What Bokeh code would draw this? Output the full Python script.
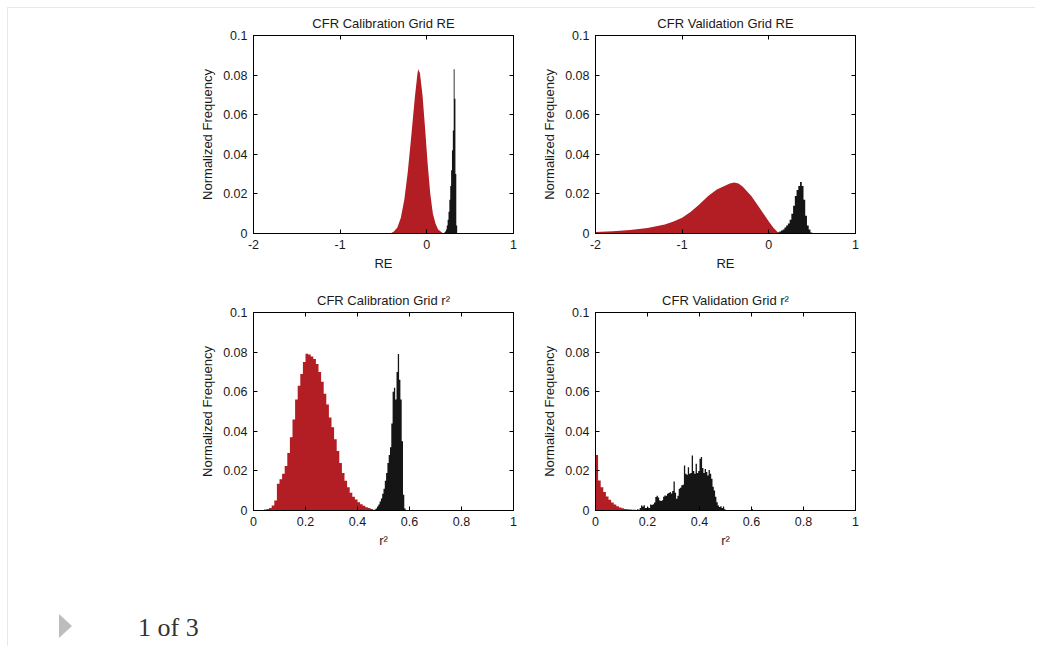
from bokeh.plotting import figure
from bokeh.layouts import column, row
from bokeh.models import LinearAxis, FixedTicker, CustomJSTickFormatter, Div
from bokeh.embed import file_html
from bokeh.resources import INLINE

# ---------------- data ----------------
TITLES = ["CFR Calibration Grid RE", "CFR Validation Grid RE",
          "CFR Calibration Grid r\u00b2", "CFR Validation Grid r\u00b2"]
XLABELS = ["RE", "RE", "r\u00b2", "r\u00b2"]
YLABEL = "Normalized Frequency"
RE_TICKS = [-2, -1, 0, 1]
R2_TICKS = [0, 0.2, 0.4, 0.6, 0.8, 1]
Y_TICKS = [0, 0.02, 0.04, 0.06, 0.08, 0.1]

# Calibration RE, red (fine histogram drawn as outline)
cal_re_red_x = [-0.42, -0.38, -0.34, -0.30, -0.26, -0.22, -0.18, -0.14, -0.11, -0.10,
                -0.08, -0.05, -0.02, 0.01, 0.04, 0.07, 0.10, 0.13, 0.16, 0.19]
cal_re_red_y = [0.0, 0.001, 0.003, 0.008, 0.017, 0.031, 0.049, 0.068, 0.080, 0.083,
                0.081, 0.070, 0.053, 0.035, 0.020, 0.010, 0.005, 0.002, 0.001, 0.0]
# Calibration RE, black (bins of 0.01)
cal_re_blk_left = [0.20, 0.21, 0.22, 0.23, 0.24, 0.25, 0.26, 0.27, 0.28, 0.29,
                   0.30, 0.31, 0.32, 0.33, 0.34]
cal_re_blk_h = [0.0005, 0.001, 0.002, 0.004, 0.007, 0.011, 0.017, 0.024, 0.032, 0.042,
                0.052, 0.083, 0.068, 0.030, 0.004]
cal_re_blk_w = 0.01

# Validation RE, red
val_re_red_x = [-2.0, -1.8, -1.6, -1.4, -1.2, -1.1, -1.0, -0.9, -0.8, -0.7,
                -0.6, -0.5, -0.45, -0.4, -0.35, -0.3, -0.2, -0.1, 0.0, 0.05, 0.1, 0.13]
val_re_red_y = [0.0007, 0.0011, 0.0018, 0.0028, 0.0045, 0.0060, 0.0080, 0.0110, 0.0148, 0.0190,
                0.0222, 0.0243, 0.0252, 0.0258, 0.0252, 0.0236, 0.0188, 0.0125, 0.0060, 0.0030,
                0.0008, 0.0]
# Validation RE, black (bins of 0.02)
val_re_blk_left = [0.10, 0.12, 0.14, 0.16, 0.18, 0.20, 0.22, 0.24, 0.26, 0.28,
                   0.30, 0.32, 0.34, 0.36, 0.38, 0.40, 0.42, 0.44, 0.46, 0.48]
val_re_blk_h = [0.0005, 0.001, 0.0015, 0.002, 0.003, 0.004, 0.005, 0.007, 0.010, 0.014,
                0.019, 0.022, 0.024, 0.026, 0.024, 0.017, 0.009, 0.004, 0.002, 0.0005]
val_re_blk_w = 0.02

# Calibration r2, red (bins of 0.01)
cal_r2_red_left = [0.03, 0.04, 0.05, 0.06, 0.07, 0.08, 0.09, 0.10, 0.11, 0.12,
                   0.13, 0.14, 0.15, 0.16, 0.17, 0.18, 0.19, 0.20, 0.21, 0.22,
                   0.23, 0.24, 0.25, 0.26, 0.27, 0.28, 0.29, 0.30, 0.31, 0.32,
                   0.33, 0.34, 0.35, 0.36, 0.37, 0.38, 0.39, 0.40, 0.41, 0.42,
                   0.43, 0.44, 0.45, 0.46]
cal_r2_red_h = [0.0002, 0.0005, 0.0008, 0.0013, 0.0025, 0.0050, 0.0135, 0.0158, 0.0185, 0.0225,
                0.0290, 0.0370, 0.0460, 0.0560, 0.0630, 0.0690, 0.0750, 0.0792, 0.0788, 0.0778,
                0.0765, 0.0740, 0.0700, 0.0650, 0.0590, 0.0535, 0.0470, 0.0420, 0.0360, 0.0300,
                0.0240, 0.0190, 0.0150, 0.0118, 0.0090, 0.0070, 0.0055, 0.0042, 0.0032, 0.0024,
                0.0017, 0.0012, 0.0007, 0.0003]
cal_r2_red_w = 0.01
# Calibration r2, black (bins of 0.005)
cal_r2_blk_left = [0.465, 0.470, 0.475, 0.480, 0.485, 0.490, 0.495, 0.500, 0.505, 0.510,
                   0.515, 0.520, 0.525, 0.530, 0.535, 0.540, 0.545, 0.550, 0.555, 0.560,
                   0.565, 0.570, 0.575, 0.580]
cal_r2_blk_h = [0.0005, 0.0010, 0.0020, 0.0030, 0.0045, 0.0060, 0.0085, 0.0110, 0.0150, 0.0190,
                0.0240, 0.0280, 0.0320, 0.0440, 0.0600, 0.0620, 0.0560, 0.0700, 0.0790, 0.0660,
                0.0560, 0.0350, 0.0080, 0.0010]
cal_r2_blk_w = 0.005

# Validation r2, red (bins of 0.01)
val_r2_red_left = [0.00, 0.01, 0.02, 0.03, 0.04, 0.05, 0.06, 0.07, 0.08, 0.09,
                   0.10, 0.11, 0.12, 0.13, 0.14, 0.15, 0.16, 0.17, 0.18]
val_r2_red_h = [0.0280, 0.0152, 0.0118, 0.0093, 0.0071, 0.0054, 0.0040, 0.0030, 0.0022, 0.0015,
                0.0011, 0.0008, 0.0006, 0.0005, 0.0004, 0.0003, 0.0002, 0.0002, 0.0001]
val_r2_red_w = 0.01
# Validation r2, black (bins of 0.005)
val_r2_blk_left = [0.150, 0.155, 0.160, 0.165, 0.170, 0.175, 0.180, 0.185, 0.190, 0.195,
                   0.200, 0.205, 0.210, 0.215, 0.220, 0.225, 0.230, 0.235, 0.240, 0.245,
                   0.250, 0.255, 0.260, 0.265, 0.270, 0.275, 0.280, 0.285, 0.290, 0.295,
                   0.300, 0.305, 0.310, 0.315, 0.320, 0.325, 0.330, 0.335, 0.340, 0.345,
                   0.350, 0.355, 0.360, 0.365, 0.370, 0.375, 0.380, 0.385, 0.390, 0.395,
                   0.400, 0.405, 0.410, 0.415, 0.420, 0.425, 0.430, 0.435, 0.440, 0.445,
                   0.450, 0.455, 0.460, 0.465, 0.470, 0.475, 0.480, 0.485, 0.490, 0.495]
val_r2_blk_h = [0.0004, 0.0003, 0.0006, 0.0004, 0.0012, 0.0025, 0.0020, 0.0026, 0.0013, 0.0012,
                0.0015, 0.0013, 0.0030, 0.0028, 0.0032, 0.0040, 0.0068, 0.0074, 0.0066, 0.0050,
                0.0048, 0.0052, 0.0070, 0.0076, 0.0074, 0.0084, 0.0088, 0.0094, 0.0086, 0.0098,
                0.0146, 0.0090, 0.0059, 0.0075, 0.0110, 0.0115, 0.0127, 0.0130, 0.0227, 0.0185,
                0.0180, 0.0219, 0.0185, 0.0190, 0.0278, 0.0200, 0.0185, 0.0236, 0.0190, 0.0200,
                0.0261, 0.0270, 0.0215, 0.0190, 0.0210, 0.0195, 0.0177, 0.0205, 0.0185, 0.0160,
                0.0120, 0.0101, 0.0070, 0.0042, 0.0025, 0.0018, 0.0022, 0.0012, 0.0020, 0.0006]
val_r2_blk_w = 0.005
# isolated small bin of the validation r2 black histogram
val_r2_blk_extra_left = [0.600]
val_r2_blk_extra_h = [0.0008]

FOOTER_TEXT = "1 of 3"

# ---------------- styling ----------------
RED = "#B31D24"
BLACK = "#151515"
FONT = "Liberation Sans"
TXT = "#1a1a1a"

fmt_code = "return String(parseFloat(tick.toFixed(6)))"


def style_axis(ax, ticks, show_labels):
    ax.ticker = FixedTicker(ticks=ticks)
    ax.major_tick_in = 4
    ax.major_tick_out = 0
    ax.minor_tick_line_color = None
    ax.axis_line_color = "black"
    ax.major_tick_line_color = "black"
    ax.major_label_text_font = FONT
    ax.major_label_text_font_size = "12.5px"
    ax.major_label_text_color = TXT
    ax.axis_label_text_font = FONT
    ax.axis_label_text_font_size = "13px"
    ax.axis_label_text_font_style = "normal"
    ax.axis_label_text_color = TXT
    if show_labels:
        ax.formatter = CustomJSTickFormatter(code=fmt_code)
    else:
        ax.formatter = CustomJSTickFormatter(code="return ''")
        ax.major_label_text_font_size = "0px"
        ax.major_label_standoff = 0


def make_fig(title, xr, xticks, xlabel, mbl, mbr, mbt, mbb):
    p = figure(frame_width=260, frame_height=198, x_range=xr, y_range=(0, 0.1),
               output_backend="svg", toolbar_location=None,
               min_border_left=mbl, min_border_right=mbr,
               min_border_top=mbt, min_border_bottom=mbb,
               title=title)
    p.title.align = "center"
    p.title.text_font = FONT
    p.title.text_font_size = "13px"
    p.title.text_font_style = "normal"
    p.title.text_color = TXT
    p.title.standoff = 9
    p.xgrid.visible = False
    p.ygrid.visible = False
    p.outline_line_color = "black"
    p.outline_line_alpha = 1
    style_axis(p.xaxis[0], xticks, True)
    style_axis(p.yaxis[0], Y_TICKS, True)
    p.xaxis[0].axis_label = xlabel
    p.xaxis[0].major_label_standoff = 6
    p.xaxis[0].axis_label_standoff = 4
    p.yaxis[0].axis_label = YLABEL
    p.yaxis[0].major_label_standoff = 6
    p.yaxis[0].axis_label_standoff = 5
    top = LinearAxis()
    style_axis(top, xticks, False)
    p.add_layout(top, "above")
    right = LinearAxis()
    style_axis(right, Y_TICKS, False)
    p.add_layout(right, "right")
    return p


def hist(p, left, heights, width, color):
    # step outline: bin left edges plus the final right edge
    xs = list(left) + [left[-1] + width]
    ys = list(heights) + [heights[-1]]
    p.varea_step(x=xs, y1=[0] * len(xs), y2=ys, step_mode="after", fill_color=color)


f1 = make_fig(TITLES[0], (-2, 1), RE_TICKS, XLABELS[0], 245, 10, 27, 45)
f1.varea(x=cal_re_red_x, y1=0, y2=cal_re_red_y, fill_color=RED)
hist(f1, cal_re_blk_left, cal_re_blk_h, cal_re_blk_w, BLACK)

f2 = make_fig(TITLES[1], (-2, 1), RE_TICKS, XLABELS[1], 72, 180, 27, 45)
f2.varea(x=val_re_red_x, y1=0, y2=val_re_red_y, fill_color=RED)
hist(f2, val_re_blk_left, val_re_blk_h, val_re_blk_w, BLACK)

f3 = make_fig(TITLES[2], (0, 1), R2_TICKS, XLABELS[2], 245, 10, 34, 52)
hist(f3, cal_r2_red_left, cal_r2_red_h, cal_r2_red_w, RED)
hist(f3, cal_r2_blk_left, cal_r2_blk_h, cal_r2_blk_w, BLACK)

f4 = make_fig(TITLES[3], (0, 1), R2_TICKS, XLABELS[3], 72, 180, 34, 52)
hist(f4, val_r2_red_left, val_r2_red_h, val_r2_red_w, RED)
hist(f4, val_r2_blk_left, val_r2_blk_h, val_r2_blk_w, BLACK)
hist(f4, val_r2_blk_extra_left, val_r2_blk_extra_h, val_r2_blk_w, BLACK)

footer = Div(text=(
    '<div style="position:relative;width:1000px;height:74px;">'
    '<div style="position:absolute;left:46px;top:47px;width:0;height:0;'
    'border-top:12px solid transparent;border-bottom:12px solid transparent;'
    'border-left:13px solid #bdbdbd;"></div>'
    '<span style="position:absolute;left:125px;top:46px;font-family:\'Liberation Serif\';'
    'font-size:26px;line-height:30px;color:#333333;white-space:nowrap;">' + FOOTER_TEXT + '</span>'
    '</div>'), width=1000, height=74)

layout = column(row(f1, f2), row(f3, f4), footer,
                styles={"border-top": "1px solid #e9e9e9", "border-left": "1px solid #e9e9e9"},
                margin=(7, 0, 0, 7))

open("out.html", "w").write(file_html(layout, INLINE))
